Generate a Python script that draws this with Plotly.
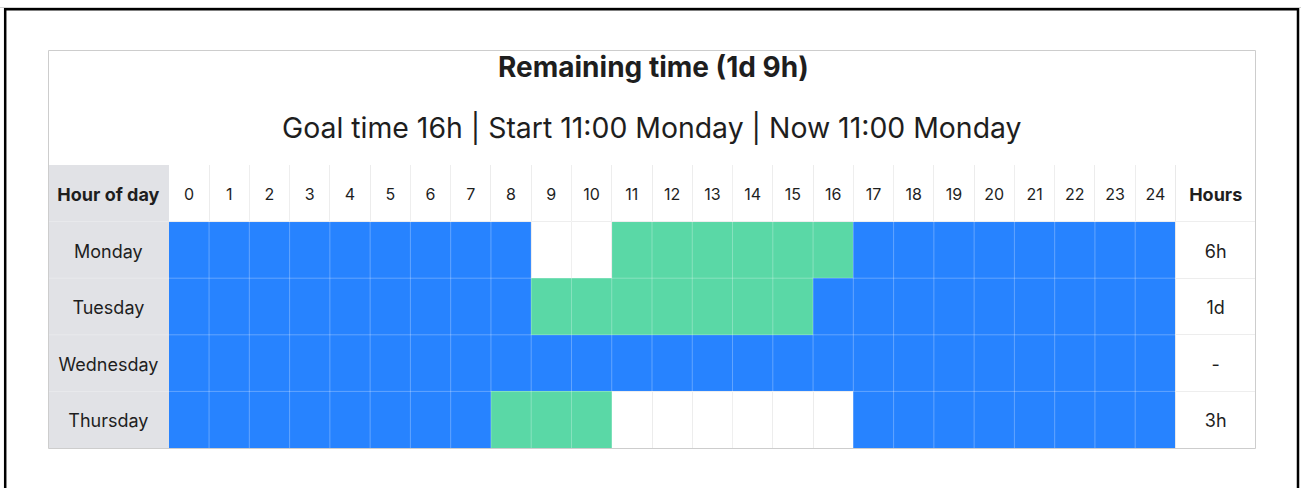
import numpy as np
import plotly.graph_objects as go

# Weekly goal tracker: one cell per hour of day
hours = list(range(25))
days = ["Monday", "Tuesday", "Wednesday", "Thursday"]

# Hour states per day: b = remaining/scheduled, g = tracked, . = free
day_states = {
    "Monday":    "bbbbbbbbb..ggggggbbbbbbbb",
    "Tuesday":   "bbbbbbbbbgggggggbbbbbbbbb",
    "Wednesday": "bbbbbbbbbbbbbbbbbbbbbbbbb",
    "Thursday":  "bbbbbbbbggg......bbbbbbbb",
}
totals = ["6h", "1d", "-", "3h"]

title_text = "Remaining time (1d 9h)"
subtitle_text = "Goal time 16h | Start 11:00 Monday | Now 11:00 Monday"
corner_label = "Hour of day"
totals_label = "Hours"

BLUE = "#2783ff"
GREEN = "#5ad8a6"
GRAY = "#e1e2e6"
INK = "#1e1e1e"
FONT = "Inter"

W, H = 1301, 488

# Colour codes: 0 blue, 1 green, 2 gray, NaN = white (transparent)
code = {"b": 0, "g": 1, ".": np.nan}
z = []
z.append([2] + [np.nan] * len(hours) + [np.nan])          # header row
for d in days:
    z.append([2] + [code[c] for c in day_states[d]] + [np.nan])

# Column edges: label column is 3 hour-widths, totals column 2
x_edges = [-3.5] + [h - 0.5 for h in hours] + [hours[-1] + 0.5, hours[-1] + 2.5]
y_edges = [r - 0.5 for r in range(len(days) + 2)]
label_x = -2.0
total_x = hours[-1] + 1.5
TXT_DY = 0.055   # nudge cell text slightly below the row centre

row_y = [r + TXT_DY for r in range(1, len(days) + 1)]
head_y = TXT_DY

fig = go.Figure()
fig.add_trace(go.Heatmap(
    z=z, x=x_edges, y=y_edges,
    zmin=0, zmax=2,
    colorscale=[[0, BLUE], [0.25, BLUE], [0.25, GREEN], [0.75, GREEN],
                [0.75, GRAY], [1, GRAY]],
    showscale=False, hoverinfo="skip",
))

# Header row
fig.add_trace(go.Scatter(
    x=hours, y=[head_y] * len(hours), mode="text",
    text=[str(h) for h in hours],
    textfont=dict(family=FONT, size=16, color=INK),
    hoverinfo="skip", showlegend=False, cliponaxis=False,
))
fig.add_trace(go.Scatter(
    x=[label_x, total_x], y=[head_y, head_y], mode="text",
    text=[f"<b>{corner_label}</b>", f"<b>{totals_label}</b>"],
    textfont=dict(family=FONT, size=18, color=INK),
    hoverinfo="skip", showlegend=False, cliponaxis=False,
))
# Day labels and totals
fig.add_trace(go.Scatter(
    x=[label_x] * len(days), y=row_y, mode="text",
    text=days, textfont=dict(family=FONT, size=18, color=INK),
    hoverinfo="skip", showlegend=False, cliponaxis=False,
))
fig.add_trace(go.Scatter(
    x=[total_x] * len(totals), y=row_y, mode="text",
    text=totals, textfont=dict(family=FONT, size=18, color=INK),
    hoverinfo="skip", showlegend=False, cliponaxis=False,
))

# Light cell borders drawn over the coloured cells
shapes = []
for xv in x_edges[2:-2]:
    shapes.append(dict(type="line", xref="x", yref="y", x0=xv, x1=xv,
                       y0=y_edges[0], y1=y_edges[-1], layer="above",
                       line=dict(color="rgba(255,255,255,0.28)", width=1)))
for yv in y_edges[1:-1]:
    shapes.append(dict(type="line", xref="x", yref="y", x0=x_edges[0], x1=x_edges[-1],
                       y0=yv, y1=yv, layer="above",
                       line=dict(color="rgba(255,255,255,0.28)", width=1)))

# Panel outline and outer frame
shapes.append(dict(type="rect", xref="paper", yref="paper",
                   x0=48.5 / W, x1=1255.5 / W, y0=1 - 448.5 / H, y1=1 - 50.5 / H,
                   line=dict(color="#cdcdcd", width=1), layer="above"))
shapes.append(dict(type="line", xref="paper", yref="paper",
                   x0=0, x1=1, y0=1 - 7.5 / H, y1=1 - 7.5 / H,
                   line=dict(color="#d2d2d2", width=1)))
shapes.append(dict(type="rect", xref="paper", yref="paper",
                   x0=5.2 / W, x1=1298 / W, y0=-0.1, y1=1 - 9.2 / H,
                   line=dict(color="#000000", width=2.5)))

annotations = [
    dict(text=f"<b>{title_text}</b>", xref="paper", yref="paper",
         x=653 / W, y=1 - 67.5 / H, xanchor="center", yanchor="middle",
         showarrow=False, font=dict(family=FONT, size=28, color=INK)),
    dict(text=subtitle_text, xref="paper", yref="paper",
         x=652 / W, y=1 - 127.5 / H, xanchor="center", yanchor="middle",
         showarrow=False, font=dict(family=FONT, size=28.4, color=INK)),
]

fig.update_layout(
    width=W, height=H,
    margin=dict(l=0, r=0, t=0, b=0),
    paper_bgcolor="white", plot_bgcolor="white",
    shapes=shapes, annotations=annotations,
    showlegend=False,
    xaxis=dict(domain=[48 / W, 1256 / W], range=[x_edges[0], x_edges[-1]],
               tickvals=x_edges[1:-1], showticklabels=False, ticks="",
               showgrid=True, gridcolor="#e9e9e9", gridwidth=1,
               zeroline=False, showline=False, fixedrange=True),
    yaxis=dict(domain=[1 - 448 / H, 1 - 165 / H], range=[y_edges[-1], y_edges[0]],
               tickvals=y_edges[1:-1], showticklabels=False, ticks="",
               showgrid=True, gridcolor="#e9e9e9", gridwidth=1,
               zeroline=False, showline=False, fixedrange=True),
)

fig.write_html("out.html", config={"displayModeBar": False})
